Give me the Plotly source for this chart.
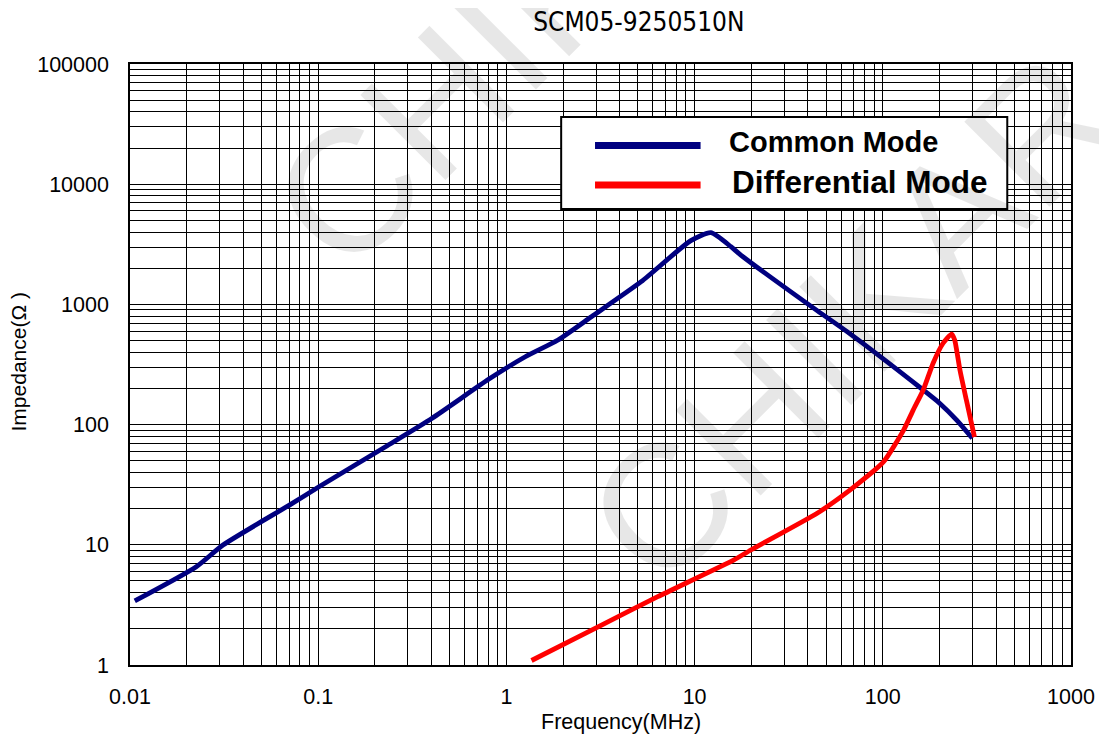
import plotly.graph_objects as go

# ---- data ----
cm_freq = [0.0106, 0.0225, 0.0312, 0.0703, 0.101, 0.228, 0.403, 0.804, 1.26, 1.88,
           2.83, 5.2, 9.55, 12.2, 15.6, 17.6, 44.8, 64.6, 164, 201, 247, 299]
cm_imp = [3.41, 6.57, 9.96, 21.4, 30.4, 65.5, 113, 238, 367, 506,
          790, 1545, 3390, 3950, 3020, 2575, 887, 593, 194, 150, 109, 77]

dm_freq = [1.36, 3.07, 6.37, 16.2, 19.9, 44.8, 67.1, 101, 129, 145, 164, 185, 209,
           232, 241, 257, 278, 307]
dm_imp = [1.09, 2.08, 3.70, 7.48, 9.05, 18.3, 28.6, 49.1, 90, 132, 194, 324, 475,
          567, 506, 284, 160, 79]

x_ticks = [0.01, 0.1, 1, 10, 100, 1000]
x_ticktext = ["0.01", "0.1", "1", "10", "100", "1000"]
y_ticks = [1, 10, 100, 1000, 10000, 100000]
y_ticktext = ["1", "10", "100", "1000", "10000", "100000"]

series_names = ["Common Mode", "Differential Mode"]
series_colors = ["#000080", "#FF0000"]
title_text = "SCM05-9250510N"
x_title = "Frequency(MHz)"
y_title = "Impedance(Ω )"
watermark = "CHIKAR"

x_minor = [m * 10.0 ** k for k in range(-2, 3) for m in range(2, 10)]
y_minor = [m * 10.0 ** k for k in range(0, 5) for m in range(2, 10)]

# page body adds an 8px margin; layout numbers below are in screen pixels
OFF = 8
W, H = 1099, 732
L, R, T, B = 122, 32, 56, 75
PW, PH = W - L - R, H - T - B


def px(xs):
    return (xs - OFF - L) / PW


def py(ys):
    return (H - B - (ys - OFF)) / PH


fig = go.Figure()
fig.add_trace(go.Scatter(x=cm_freq, y=cm_imp, mode="lines", name=series_names[0],
                         line=dict(color=series_colors[0], width=4.8, shape="spline", smoothing=0.6),
                         showlegend=False))
fig.add_trace(go.Scatter(x=dm_freq, y=dm_imp, mode="lines", name=series_names[1],
                         line=dict(color=series_colors[1], width=4.8, shape="spline", smoothing=0.5),
                         showlegend=False))

arial = "Liberation Sans, Arial, sans-serif"
tick_font = dict(family=arial, size=21.5, color="black")

fig.update_layout(
    width=W, height=H, autosize=False,
    margin=dict(l=L, r=R, t=T, b=B),
    paper_bgcolor="white", plot_bgcolor="rgba(0,0,0,0)",
    title=dict(text=title_text, x=px(641), xref="paper", xanchor="center",
               y=1 - (22 - OFF) / H, yref="container", yanchor="middle",
               font=dict(family="DejaVu Sans Condensed, DejaVu Sans, sans-serif", size=26, color="black")),
    xaxis=dict(type="log", range=[-2, 3], tickvals=x_ticks, ticktext=x_ticktext,
               showgrid=True, gridcolor="black", gridwidth=1,
               showline=True, linecolor="black", linewidth=1.5, mirror=True,
               ticks="", ticklabelstandoff=11, tickfont=tick_font,
               minor=dict(tickvals=x_minor, showgrid=True, gridcolor="black", gridwidth=1, ticks=""),
               zeroline=False),
    yaxis=dict(type="log", range=[0, 5], tickvals=y_ticks, ticktext=y_ticktext,
               showgrid=True, gridcolor="black", gridwidth=1,
               showline=True, linecolor="black", linewidth=1.5, mirror=True,
               ticks="", ticklabelstandoff=15, tickfont=tick_font,
               minor=dict(tickvals=y_minor, showgrid=True, gridcolor="black", gridwidth=1, ticks=""),
               zeroline=False),
)

# axis titles (placed as in the reference)
fig.add_annotation(text=x_title, xref="paper", yref="paper", x=px(623), y=py(722),
                   xanchor="center", yanchor="middle", showarrow=False,
                   font=dict(family=arial, size=21.5, color="black"))
fig.add_annotation(text=y_title, xref="paper", yref="paper", x=px(18), y=py(362),
                   xanchor="center", yanchor="middle", showarrow=False, textangle=-90,
                   font=dict(family=arial, size=21, color="black"))

# watermark (faint, rotated)
for cx, cy in [(538, 3), (855, 318)]:
    fig.add_annotation(text=watermark, xref="paper", yref="paper", x=px(cx), y=py(cy),
                       xanchor="center", yanchor="middle", textangle=-45, showarrow=False,
                       font=dict(family=arial, size=175, color="rgba(0,0,0,0.095)"))

# custom legend box
fig.add_shape(type="rect", xref="paper", yref="paper", x0=px(563), x1=px(1011), y0=py(209), y1=py(117),
              line=dict(color="black", width=2), fillcolor="white", layer="above")
for i, yy in enumerate([145.5, 185]):
    fig.add_shape(type="line", xref="paper", yref="paper", x0=px(597), x1=px(703), y0=py(yy), y1=py(yy),
                  line=dict(color=series_colors[i], width=7), layer="above")
for i, (xx, yy, fs) in enumerate([(730, 142, 29), (733, 182, 31.5)]):
    fig.add_annotation(text="<b>%s</b>" % series_names[i], xref="paper", yref="paper",
                       x=px(xx), y=py(yy), xanchor="left", yanchor="middle", showarrow=False,
                       font=dict(family=arial, size=fs, color="black"))

fig.write_html("out.html")
